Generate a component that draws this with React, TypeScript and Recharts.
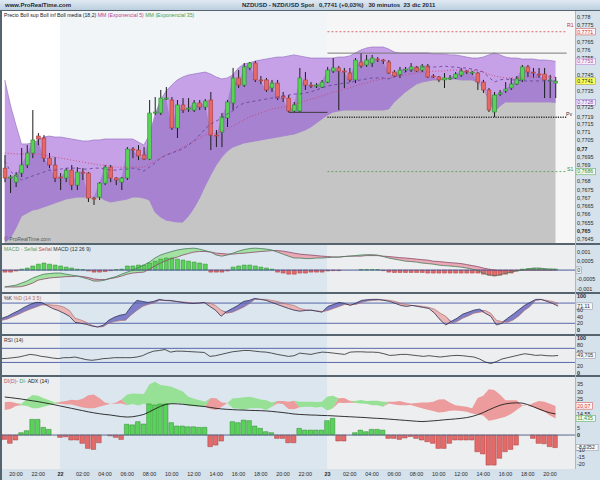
import { ComposedChart, Bar, Area, Line, XAxis, YAxis, ReferenceLine, Cell } from 'recharts'

// NZD/USD 30 min bars, 21 dic 19:00 -> 23 dic 20:30
const OPEN = [
  0.76881, 0.76821, 0.76796, 0.76851, 0.769, 0.76973, 0.77076, 0.77064, 0.76942, 0.769,
  0.76827, 0.76821, 0.76869, 0.76778, 0.76857, 0.76851, 0.76699, 0.76705, 0.7679, 0.76887,
  0.76821, 0.76796, 0.76821, 0.76997, 0.76991, 0.76961, 0.76936, 0.77216, 0.77216, 0.77307,
  0.77295, 0.77125, 0.77265, 0.7724, 0.77234, 0.77277, 0.77252, 0.77295, 0.77082, 0.771,
  0.77186, 0.77277, 0.77429, 0.77386, 0.7749, 0.7752, 0.77417, 0.77417, 0.77368, 0.77398,
  0.77319, 0.77307, 0.77228, 0.77228, 0.77417, 0.77386, 0.7738, 0.77374, 0.77404, 0.77471,
  0.7749, 0.77471, 0.77459, 0.77417, 0.77526, 0.77508, 0.7752, 0.77544, 0.77538, 0.77526,
  0.77465, 0.77447, 0.77477, 0.77477, 0.77496, 0.77477, 0.77502, 0.77441, 0.77435, 0.77417,
  0.77429, 0.77429, 0.77447, 0.77471, 0.77465, 0.77459, 0.77404, 0.77356, 0.77222, 0.77331,
  0.7735, 0.77368, 0.77392, 0.77417, 0.77496, 0.77465, 0.77453, 0.77453, 0.77417, 0.77398,
]
const HIGH = [
  0.76961, 0.76839, 0.76857, 0.77003, 0.77021, 0.77234, 0.77094, 0.77082, 0.76973, 0.76948,
  0.76851, 0.76881, 0.769, 0.76887, 0.76881, 0.76857, 0.76705, 0.76796, 0.769, 0.769,
  0.76827, 0.76827, 0.77009, 0.77009, 0.77021, 0.77009, 0.77295, 0.77313, 0.77356, 0.77374,
  0.77313, 0.77295, 0.77307, 0.77307, 0.77295, 0.77295, 0.77301, 0.77344, 0.77113, 0.77216,
  0.77295, 0.7749, 0.77477, 0.7752, 0.77526, 0.77532, 0.77441, 0.77429, 0.77417, 0.77417,
  0.77344, 0.77325, 0.77283, 0.7749, 0.77465, 0.77404, 0.77398, 0.77417, 0.77496, 0.7755,
  0.77502, 0.7749, 0.7749, 0.7755, 0.77581, 0.77569, 0.77569, 0.77556, 0.77544, 0.77538,
  0.77477, 0.77496, 0.77496, 0.7752, 0.77502, 0.77514, 0.77514, 0.77453, 0.77441, 0.77459,
  0.77447, 0.77465, 0.7749, 0.77477, 0.77471, 0.77465, 0.77417, 0.77368, 0.77344, 0.77356,
  0.77404, 0.77429, 0.77441, 0.77508, 0.77508, 0.7749, 0.7749, 0.7749, 0.77447, 0.77435,
]
const LOW = [
  0.76796, 0.7673, 0.76766, 0.76827, 0.76881, 0.76942, 0.77021, 0.76918, 0.76881, 0.76796,
  0.76748, 0.76796, 0.76748, 0.76748, 0.76809, 0.76675, 0.76657, 0.76687, 0.76778, 0.76796,
  0.76778, 0.76748, 0.76809, 0.76942, 0.7693, 0.7693, 0.7693, 0.77204, 0.77204, 0.77295,
  0.77113, 0.77064, 0.77216, 0.77222, 0.77222, 0.77234, 0.77234, 0.76991, 0.77009, 0.77009,
  0.77131, 0.77234, 0.77368, 0.77374, 0.77477, 0.77404, 0.77392, 0.77344, 0.77344, 0.77295,
  0.77283, 0.77222, 0.77222, 0.77222, 0.77356, 0.77368, 0.77368, 0.77368, 0.77398, 0.77459,
  0.77234, 0.77368, 0.77404, 0.77398, 0.7749, 0.77496, 0.77496, 0.77526, 0.77514, 0.77453,
  0.77435, 0.77429, 0.77465, 0.77465, 0.77465, 0.77465, 0.77429, 0.77429, 0.77404, 0.77368,
  0.77417, 0.77423, 0.77435, 0.77453, 0.77447, 0.77356, 0.77338, 0.77222, 0.77192, 0.77319,
  0.77338, 0.77356, 0.77386, 0.77404, 0.77435, 0.77429, 0.77429, 0.77307, 0.77307, 0.77307,
]
const CLOSE = [
  0.76821, 0.76827, 0.76839, 0.769, 0.76973, 0.77052, 0.77058, 0.76942, 0.769, 0.76821,
  0.76821, 0.76869, 0.76778, 0.76857, 0.76851, 0.76699, 0.76693, 0.7679, 0.76887, 0.76821,
  0.76809, 0.76821, 0.76997, 0.76991, 0.76955, 0.76936, 0.77216, 0.77222, 0.77307, 0.77307,
  0.77125, 0.77265, 0.77234, 0.77246, 0.77277, 0.77252, 0.77289, 0.77082, 0.77076, 0.77192,
  0.77283, 0.77429, 0.77386, 0.77496, 0.7752, 0.77417, 0.77411, 0.77356, 0.77398, 0.77307,
  0.77307, 0.77228, 0.77265, 0.77429, 0.77386, 0.7738, 0.77386, 0.77404, 0.77477, 0.7749,
  0.77471, 0.77465, 0.77417, 0.77538, 0.77502, 0.77538, 0.7755, 0.77538, 0.77532, 0.77459,
  0.77441, 0.77477, 0.77483, 0.77496, 0.77471, 0.77502, 0.77435, 0.77435, 0.77417, 0.77429,
  0.77429, 0.77453, 0.77471, 0.77465, 0.77465, 0.77404, 0.77356, 0.77234, 0.77325, 0.77338,
  0.77362, 0.77392, 0.77423, 0.77496, 0.77465, 0.77459, 0.77447, 0.77417, 0.77417, 0.7741,
]
const BOLL_UP = [
  0.77417, 0.77265, 0.77143, 0.77028, 0.77028, 0.77034, 0.77052, 0.7707, 0.77076, 0.7707,
  0.7707, 0.77064, 0.77058, 0.77052, 0.77046, 0.77046, 0.77052, 0.77052, 0.77058, 0.77058,
  0.77058, 0.77058, 0.77058, 0.77058, 0.7704, 0.77021, 0.77082, 0.77204, 0.77295, 0.7735,
  0.77386, 0.77417, 0.77435, 0.77447, 0.77453, 0.77459, 0.77465, 0.77453, 0.77435, 0.77423,
  0.77429, 0.77447, 0.7749, 0.77514, 0.7752, 0.77532, 0.77538, 0.77544, 0.7755, 0.77556,
  0.77556, 0.77563, 0.77569, 0.77563, 0.77556, 0.7755, 0.7755, 0.7755, 0.7755, 0.7755,
  0.77556, 0.77556, 0.77563, 0.77581, 0.77599, 0.77611, 0.77617, 0.77617, 0.77617, 0.77605,
  0.77587, 0.77581, 0.77581, 0.77581, 0.77581, 0.77581, 0.77581, 0.77575, 0.77575, 0.77575,
  0.77569, 0.77569, 0.77563, 0.77556, 0.7755, 0.7755, 0.77556, 0.77569, 0.77581, 0.77569,
  0.77556, 0.7755, 0.7755, 0.77544, 0.77544, 0.77544, 0.77538, 0.77538, 0.77535, 0.7753,
]
const BOLL_DN = [
  0.76432, 0.76456, 0.76517, 0.7659, 0.76608, 0.76626, 0.76633, 0.76645, 0.76657, 0.76669,
  0.76681, 0.76693, 0.76699, 0.76705, 0.76705, 0.76705, 0.76705, 0.76705, 0.76687, 0.76675,
  0.76681, 0.76687, 0.76693, 0.76705, 0.76705, 0.76699, 0.76687, 0.76614, 0.76584, 0.76565,
  0.76559, 0.76553, 0.76553, 0.7659, 0.76639, 0.76699, 0.76772, 0.76839, 0.769, 0.76948,
  0.76985, 0.77009, 0.77021, 0.77034, 0.7704, 0.77046, 0.77052, 0.77058, 0.77064, 0.7707,
  0.77076, 0.77082, 0.77088, 0.771, 0.77113, 0.77131, 0.77155, 0.7718, 0.77204, 0.77222,
  0.77228, 0.77234, 0.77234, 0.77234, 0.77234, 0.77234, 0.77234, 0.77234, 0.77234, 0.7724,
  0.77283, 0.77313, 0.77344, 0.77368, 0.77392, 0.77404, 0.77411, 0.77417, 0.77417, 0.77423,
  0.77423, 0.77423, 0.77417, 0.77417, 0.77417, 0.77404, 0.77368, 0.77295, 0.77222, 0.77259,
  0.77283, 0.77283, 0.77283, 0.77283, 0.77283, 0.77283, 0.77283, 0.77283, 0.77283, 0.7728,
]
const BOLL_MID = [
  0.76924, 0.76863, 0.76833, 0.76809, 0.76821, 0.76833, 0.76845, 0.76857, 0.76869, 0.76869,
  0.76875, 0.76881, 0.76881, 0.76881, 0.76875, 0.76875, 0.76881, 0.76881, 0.76875, 0.76869,
  0.76869, 0.76875, 0.76875, 0.76881, 0.76875, 0.76863, 0.76887, 0.76912, 0.76942, 0.76961,
  0.76973, 0.76985, 0.76997, 0.77021, 0.77046, 0.77082, 0.77119, 0.77149, 0.77167, 0.77186,
  0.7721, 0.77228, 0.77259, 0.77277, 0.77283, 0.77289, 0.77295, 0.77301, 0.77307, 0.77313,
  0.77319, 0.77325, 0.77331, 0.77331, 0.77338, 0.77344, 0.77356, 0.77368, 0.7738, 0.77386,
  0.77392, 0.77398, 0.77398, 0.77411, 0.77417, 0.77423, 0.77429, 0.77429, 0.77429, 0.77423,
  0.77435, 0.77447, 0.77465, 0.77477, 0.7749, 0.77496, 0.77496, 0.77496, 0.77496, 0.77502,
  0.77496, 0.77496, 0.7749, 0.7749, 0.77483, 0.77477, 0.77465, 0.77435, 0.77404, 0.77417,
  0.77423, 0.77417, 0.77417, 0.77411, 0.77411, 0.77411, 0.77411, 0.77411, 0.77411, 0.77411,
]
const EMA_35 = [
  0.76973, 0.7697, 0.76967, 0.76967, 0.76967, 0.76967, 0.76967, 0.76961, 0.76955, 0.76948,
  0.76942, 0.76936, 0.7693, 0.76924, 0.76918, 0.76912, 0.76906, 0.769, 0.769, 0.76894,
  0.76887, 0.76887, 0.76887, 0.76887, 0.76887, 0.76887, 0.76906, 0.76924, 0.76942, 0.76961,
  0.76973, 0.76991, 0.77009, 0.77028, 0.77046, 0.77064, 0.77082, 0.77088, 0.77094, 0.77107,
  0.77119, 0.77137, 0.77155, 0.77173, 0.77192, 0.77204, 0.77216, 0.77228, 0.7724, 0.77246,
  0.77252, 0.77259, 0.77265, 0.77277, 0.77289, 0.77301, 0.77307, 0.77319, 0.77331, 0.77344,
  0.7735, 0.77362, 0.77368, 0.7738, 0.77392, 0.77398, 0.77411, 0.77417, 0.77423, 0.77429,
  0.77435, 0.77441, 0.77447, 0.77453, 0.77459, 0.77465, 0.77465, 0.77471, 0.77471, 0.77471,
  0.77477, 0.77477, 0.77477, 0.77477, 0.77477, 0.77471, 0.77465, 0.77453, 0.77441, 0.77435,
  0.77429, 0.77429, 0.77429, 0.77429, 0.77435, 0.77435, 0.77435, 0.77435, 0.77435, 0.77435,
]

const R1 = 0.7771
const PIVOT = 0.7719
const S1 = 0.7686
const PREV_HIGH = 0.7758
const PREV_LOW = 0.7722

const MACD = [
  -0.00091, -0.00086, -0.00081, -0.0007, -0.00059, -0.00043, -0.00032, -0.00022, -0.00019, -0.00016,
  -0.00016, -0.00022, -0.00027, -0.00032, -0.0004, -0.00048, -0.00059, -0.00059, -0.00054, -0.00043,
  -0.00035, -0.00022, -0.00011, 0, 0.00013, 0.00027, 0.00043, 0.00065, 0.00081, 0.00091,
  0.001, 0.00108, 0.00113, 0.00116, 0.00118, 0.00113, 0.00105, 0.00097, 0.00081, 0.00075,
  0.00081, 0.00091, 0.00102, 0.0011, 0.00116, 0.00118, 0.00116, 0.00113, 0.00108, 0.00097,
  0.00086, 0.00075, 0.00065, 0.00065, 0.00062, 0.00062, 0.00065, 0.00065, 0.00067, 0.0007,
  0.0007, 0.00073, 0.00075, 0.00078, 0.00081, 0.00083, 0.00083, 0.00081, 0.00073, 0.00065,
  0.00059, 0.00054, 0.00048, 0.00046, 0.00043, 0.00038, 0.00035, 0.00032, 0.00027, 0.00024,
  0.00022, 0.00019, 0.00016, 0.00011, 0.00005, -0.00003, -0.00016, -0.00027, -0.0003, -0.00027,
  -0.00016, -0.00011, -0.00005, 0, 0.00005, 0.00011, 0.00011, 0.00008, 0.00005, 0.00005,
]
const MACD_SIGNAL = [
  -0.00091, -0.00091, -0.00091, -0.00089, -0.00081, -0.0007, -0.00054, -0.00048, -0.00043, -0.0004,
  -0.00038, -0.00035, -0.00035, -0.00032, -0.00035, -0.0004, -0.00048, -0.00051, -0.00051, -0.00046,
  -0.0004, -0.00032, -0.00022, -0.00016, -0.00013, -0.00011, 0.00005, 0.00022, 0.00038, 0.00051,
  0.00062, 0.0007, 0.00081, 0.00089, 0.00097, 0.001, 0.001, 0.00097, 0.00091, 0.00089,
  0.00086, 0.00086, 0.00089, 0.00091, 0.00094, 0.00097, 0.001, 0.00102, 0.00105, 0.00105,
  0.00102, 0.00097, 0.00091, 0.00086, 0.00083, 0.00081, 0.00078, 0.00075, 0.00073, 0.0007,
  0.0007, 0.00073, 0.00075, 0.00075, 0.00075, 0.00078, 0.00078, 0.00078, 0.00075, 0.00073,
  0.0007, 0.00067, 0.00065, 0.00062, 0.00059, 0.00056, 0.00054, 0.00048, 0.00046, 0.00043,
  0.0004, 0.00038, 0.00035, 0.0003, 0.00024, 0.00019, 0.00011, 0.00005, 0, -0.00003,
  -0.00003, -0.00003, -0.00003, 0, 0, 0, 0, 0, 0, 0,
]
const MACD_HIST = [
  -0.00011, -0.00011, -0.00005, 0.00005, 0.00011, 0.00022, 0.00032, 0.00038, 0.00032, 0.00027,
  0.00022, 0.00016, 0.00011, 0.00005, 0.00003, -0.00005, -0.00011, -0.00011, -0.00008, -0.00003,
  0.00003, 0.00005, 0.00022, 0.00022, 0.00027, 0.00027, 0.00038, 0.00048, 0.00059, 0.00065,
  0.00065, 0.00059, 0.00054, 0.00048, 0.00043, 0.00038, 0.00032, -0.00011, -0.00011, -0.00011,
  -0.00005, 0.00016, 0.00022, 0.00027, 0.00027, 0.00022, 0.00016, 0.00011, 0.00005, -0.00011,
  -0.00016, -0.00022, -0.00022, -0.00016, -0.00016, -0.00011, -0.00011, -0.00011, -0.00005, -0.00003,
  -0.00003, 0, 0, 0, 0.00003, 0.00003, 0.00003, 0.00003, -0.00003, -0.00011,
  -0.00013, -0.00013, -0.00013, -0.00013, -0.00013, -0.00013, -0.00016, -0.00016, -0.00016, -0.00016,
  -0.00016, -0.00016, -0.00016, -0.00016, -0.00016, -0.00016, -0.00022, -0.00027, -0.00032, -0.00027,
  -0.00022, -0.00016, -0.00005, 0.00005, 0.00008, 0.00008, 0.00008, 0.00005, 0.00005, 0.00005,
]

const STOCH_K = [
  35, 41, 50, 58, 68, 76, 82, 82, 73, 64, 58, 50, 41, 23, 20, 17, 12, 9, 14, 29,
  38, 44, 47, 70, 88, 85, 82, 85, 91, 88, 88, 85, 82, 80, 79, 80, 82, 70, 59, 41,
  55, 64, 73, 85, 88, 94, 91, 88, 82, 76, 70, 64, 59, 56, 58, 59, 56, 53, 70, 76,
  82, 79, 73, 80, 88, 90, 91, 91, 88, 85, 79, 73, 70, 73, 70, 67, 64, 50, 30, 15,
  26, 35, 47, 53, 59, 62, 50, 41, 15, 20, 35, 47, 60, 73, 82, 91, 91, 85, 79, 71.11,
]
const STOCH_D = [
  29, 33, 40, 47, 55, 62, 68, 74, 76, 74, 73, 68, 58, 35, 30, 23, 14, 9, 10, 20,
  25, 28, 29, 45, 58, 70, 76, 80, 88, 88, 86, 85, 84, 82, 80, 80, 82, 80, 73, 59,
  50, 53, 60, 68, 78, 91, 91, 91, 88, 85, 80, 76, 73, 64, 60, 59, 57, 55, 58, 64,
  70, 76, 76, 76, 82, 86, 88, 89, 90, 88, 85, 79, 76, 73, 72, 70, 67, 62, 50, 41,
  20, 25, 35, 42, 50, 53, 58, 50, 29, 25, 23, 30, 42, 58, 70, 88, 90, 88, 85, 79,
]
const RSI = [
  40.8, 41.7, 43.5, 45.4, 49.1, 52.8, 50.9, 47.2, 45.4, 42.6, 40.8, 43.5, 43.5, 45.4, 41.7, 38, 36.1, 38, 40.8, 41.7,
  43.5, 43.5, 43.5, 43.5, 45.4, 49.1, 56.5, 62, 63.9, 66.7, 59.3, 62, 62, 61.1, 60.2, 59.3, 58.3, 47.2, 49.1, 52.8,
  56.5, 60.2, 62, 63.9, 63.9, 62, 60.2, 59.3, 56.5, 52.8, 50, 47.2, 49.1, 56.5, 54.6, 52.8, 56.5, 59.3, 58.3, 56.5,
  54.6, 52.8, 59.3, 60.2, 60.2, 59.3, 59.3, 58.3, 54.6, 50, 50.9, 52.8, 52.8, 50.9, 49.1, 47.2, 49.1, 47.2, 45.4, 47.2,
  49.1, 50, 49.1, 47.2, 45.4, 39.8, 31.5, 26.9, 32.4, 39.8, 43.5, 47.2, 50.9, 54.6, 52.8, 50, 50.9, 49.1, 48.5, 49.705,
]
const DI_PLUS = [
  17.2, 18, 20, 21.5, 25, 27.6, 27, 25.3, 24, 22.5, 21.5, 21, 21, 20, 19, 18.5, 18.5, 19.5, 20.5, 21.5,
  21.5, 21.8, 28, 28.7, 28.5, 28.3, 35, 36.8, 34.5, 34, 33.3, 31.5, 30, 26.4, 25, 24, 23, 18, 17.2, 19.5,
  22, 25.3, 25.5, 26, 26.4, 25.5, 24.5, 24, 22.5, 21.8, 21.4, 18, 17.7, 23, 23, 23, 22.7, 23, 26.6, 27,
  22.3, 22, 22.3, 23.5, 24.1, 23.5, 23.7, 23.7, 23, 21.8, 21, 20.5, 20.5, 20.7, 19.5, 18.5, 17.5, 16.5, 15.5, 15.8,
  16.8, 17, 16.5, 16, 14.9, 14.2, 13.5, 9.9, 10.5, 11.5, 12.6, 14.5, 17.2, 20, 20, 19.5, 17.5, 16, 13.5, 11.435,
]
const DI_MINUS = [
  22.8, 23, 22, 20.5, 20, 18.4, 18.5, 19.5, 20.5, 21.5, 23, 23.5, 24.3, 24, 25, 27.5, 28, 25.5, 22.5, 21.5,
  22.5, 24.5, 20.5, 21.4, 20.3, 21.5, 20.5, 20.7, 19.5, 20.5, 21.4, 22, 21.5, 20, 19.8, 19.5, 19.5, 25.5, 25.3, 22.5,
  22, 18.4, 18.2, 17.5, 18.4, 18.5, 18.5, 17.2, 19.5, 23.5, 23.5, 23, 23.7, 19.1, 19.5, 19.5, 19, 19.5, 17, 18.5,
  25.3, 25.5, 23.7, 22, 21.8, 21.5, 20.5, 20.5, 19.5, 23, 23, 23.5, 22.5, 21.8, 22, 22.5, 22.5, 23, 24.5, 24.7,
  22.5, 20.5, 20, 19.5, 18.4, 25.5, 27, 31.5, 31, 28, 24, 24, 24, 20.5, 20, 22, 23.5, 23, 21.5, 20.07,
]
const ADX = [
  26.2, 25.8, 25.3, 24.8, 24.2, 23.6, 23, 22.3, 21.6, 20.8, 20, 19.2, 18.4, 17.6, 16.8, 16, 15.3, 14.7, 14.2, 13.8,
  13.2, 12.7, 12.4, 12.6, 13.3, 14.2, 16, 18, 19.8, 21.2, 21.6, 21.5, 21.2, 20.8, 20.4, 20, 19.6, 19, 18.4, 18,
  17.7, 17.5, 17.3, 17.2, 17, 16.9, 16.8, 16.6, 16.3, 15.9, 15.5, 15, 14.5, 14.2, 14, 13.8, 13.7, 13.5, 13.4, 13.2,
  13, 12.8, 12.6, 12.4, 12.2, 12, 11.7, 11.5, 11.3, 11, 10.7, 10.4, 10.1, 9.8, 9.5, 9.3, 9.5, 9.8, 10.1, 10.5,
  10.8, 11.1, 11.5, 12, 12.8, 14, 15.5, 17.3, 19, 20.5, 21.5, 22, 22.2, 22, 21, 19.5, 18, 16.5, 15.3, 14.55,
]
const DI_HIST = [
  -3, -5.7, -3.4, 1.6, 3, 10.8, 10.8, 5.3, 3.9, 0, -1.6, -1.2, -3.4, -3.4, -5.7, -9.2, -9.9, -5.3, 0, -0.5,
  -1.6, -3, 7.4, 7, 9.2, 7.6, 21.4, 20.7, 21.4, 21.4, 8.5, 6.2, 6.2, 5.7, 5.7, 5.3, 5.3, -8, -6.9, -4.1,
  0, 9.2, 8.5, 10.3, 9.9, 6.2, 4.6, 2.3, 1.6, -2.3, -2.3, -5.3, -5.3, 4.6, 3.4, 3.4, 3.4, 3.4, 9.9, 11.5,
  -4.1, -4.1, 0, 1.6, 3.4, 2.3, 3.9, 3.9, 3.4, -2.3, -2.3, -3, -2, -1, -2.3, -3.4, -4.6, -5.7, -9.2, -9.2,
  -5.7, -3.4, -3.4, -3.4, -3.4, -11.5, -13, -20.7, -20.7, -16, -11.5, -9.9, -6.9, 0, 0, -2.3, -5.7, -6, -8, -8.6352,
]

const X_TICKS = [2, 6, 10, 14, 18, 22, 26, 30, 34, 38, 42, 46, 50, 54, 58, 62, 66, 70, 74, 78, 82, 86, 90, 94, 98]
const X_LABELS = [
  '20:00', '22:00', '22', '02:00', '04:00', '06:00', '08:00', '10:00', '12:00', '14:00', '16:00', '18:00', '20:00',
  '22:00', '23', '02:00', '04:00', '06:00', '08:00', '10:00', '12:00', '14:00', '16:00', '18:00', '20:00',
]

const PRICE_TICKS = [
  0.778, 0.7775, 0.7771, 0.7765, 0.776, 0.7755, 0.7753, 0.7745, 0.7741, 0.7735, 0.7728, 0.7725, 0.7719,
  0.7715, 0.771, 0.7705, 0.77, 0.7695, 0.769, 0.7686, 0.768, 0.7675, 0.767, 0.7665, 0.766, 0.7655, 0.765, 0.7645,
]
const MACD_TICKS = [0.001, 0.0005, 0, -0.0005, -0.001]
const STOCH_TICKS = [100, 71.11, 60, 40, 20, 0]
const RSI_TICKS = [100, 80, 60, 49.705, 20, 0]
const DI_TICKS = [35, 30, 25, 20.07, 14.55, 11.435, 5, 0, -8.6352, -10, -15, -20]

const FONT = '"Liberation Sans", Arial, sans-serif'
const W = 600
const PLOT_L = 2
const AXIS_W = 25
const SLOTS = 103
const BAND = (W - PLOT_L - AXIS_W) / SLOTS
const xAt = (i: number) => PLOT_L + BAND * (i + 0.5)
const MARGIN = { top: 0, right: 0, bottom: 0, left: PLOT_L }

const GREEN = '#5ad15a'
const GREEN_EDGE = '#2c8a2c'
const RED = '#e46a6a'
const RED_EDGE = '#a83a3a'

const rows = Array.from({ length: SLOTS }, (_, i) => {
  if (i >= CLOSE.length) return { i }
  const c = CLOSE[i]
  const up = BOLL_UP[i]
  const dn = BOLL_DN[i]
  return {
    i,
    candle: [LOW[i], HIGH[i]],
    open: OPEN[i],
    high: HIGH[i],
    low: LOW[i],
    close: c,
    lower: dn,
    band: [dn, up],
    inner: [dn, Math.min(Math.max(c, dn), up)],
    mid: BOLL_MID[i],
    ema: EMA_35[i],
    macd: MACD[i],
    signal: MACD_SIGNAL[i],
    macdHist: MACD_HIST[i],
    macdUp: [MACD_SIGNAL[i], Math.max(MACD[i], MACD_SIGNAL[i])],
    macdDn: [Math.min(MACD[i], MACD_SIGNAL[i]), MACD_SIGNAL[i]],
    k: STOCH_K[i],
    d: STOCH_D[i],
    stUp: [STOCH_D[i], Math.max(STOCH_K[i], STOCH_D[i])],
    stDn: [Math.min(STOCH_K[i], STOCH_D[i]), STOCH_D[i]],
    rsi: RSI[i],
    adx: ADX[i],
    diUp: [DI_MINUS[i], Math.max(DI_PLUS[i], DI_MINUS[i])],
    diDn: [Math.min(DI_PLUS[i], DI_MINUS[i]), DI_MINUS[i]],
    diHist: DI_HIST[i],
  }
})

type Box = { fill: string; stroke: string; color: string } | null
const comma = (v: number) => String(v).replace('.', ',')

// boxed labels mark last values / pivot levels; null = plain coloured text
function axisTick(boxes: Map<number, Box>, bold: number[], tints: Map<number, string> = new Map()) {
  return (p: any) => {
    const v = p.payload.value as number
    const text = comma(v)
    const b = boxes.get(v)
    if (b) {
      return (
        <g>
          <rect x={p.x - 1} y={p.y - 3.2} width={text.length * 2.8 + 2.5} height={6.4} fill={b.fill} stroke={b.stroke} strokeWidth={0.5} />
          <text x={p.x + 0.3} y={p.y + 1.9} fontSize={5.2} fontFamily={FONT} fill={b.color}>{text}</text>
        </g>
      )
    }
    return (
      <text x={p.x} y={p.y + 2} fontSize={5.4} fontFamily={FONT} fontWeight={bold.includes(v) ? 700 : 400} fill={tints.get(v) ?? '#2a2a2a'}>
        {text}
      </text>
    )
  }
}

function timeTick(p: any) {
  const label = X_LABELS[X_TICKS.indexOf(p.payload.value)]
  return (
    <text x={p.x} y={p.y + 6} textAnchor="middle" fontSize={5.4} fontFamily={FONT} fontWeight={label.length === 2 ? 700 : 400} fill="#2a2a2a">
      {label}
    </text>
  )
}

function Candle(props: any) {
  const { x, y, width, height, payload } = props
  if (!payload || payload.close == null) return null
  const { open, close, high, low } = payload
  const cx = x + width / 2
  const py = (v: number) => y + ((high - v) / (high - low || 1e-9)) * height
  const top = py(Math.max(open, close))
  const bot = py(Math.min(open, close))
  const rising = close >= open
  return (
    <g>
      <line x1={cx} x2={cx} y1={y} y2={y + height} stroke="#1c1c1c" strokeWidth={1} />
      <rect x={cx - 1.9} y={top} width={3.8} height={Math.max(bot - top, 1)} fill={rising ? GREEN : RED} stroke={rising ? GREEN_EDGE : RED_EDGE} strokeWidth={0.6} />
    </g>
  )
}

const yAxisProps = {
  orientation: 'right' as const,
  width: AXIS_W,
  axisLine: false,
  tickLine: false,
  tickSize: 0,
  tickMargin: 2,
  interval: 0,
  allowDataOverflow: true,
}

function Backdrop({ top, height, colors }: { top: number; height: number; colors: string[] }) {
  const a = xAt(10)
  const b = xAt(58)
  const parts = [
    [PLOT_L, a],
    [a, b],
    [b, W - AXIS_W],
  ]
  return (
    <>
      {parts.map(([l, r], n) => (
        <div key={n} style={{ position: 'absolute', left: l, top, width: r - l, height, background: colors[n] }} />
      ))}
    </>
  )
}

const PANEL_BG = ['#eceeef', '#dbe6ef', '#eceef0']

function PricePanel() {
  const seg = (v: number, from: number, to: number) => [
    { x: from, y: v },
    { x: to, y: v },
  ]
  return (
    <ComposedChart width={W} height={232} data={rows} margin={MARGIN} barCategoryGap={0} barGap={0}>
      <XAxis dataKey="i" hide />
      <YAxis
        {...yAxisProps}
        domain={[0.76426, 0.77836]}
        ticks={PRICE_TICKS}
        tick={axisTick(
          new Map<number, Box>([
            [0.7771, { fill: '#fff4f4', stroke: '#d04848', color: '#c43434' }],
            [0.7753, { fill: '#f7eefc', stroke: '#b070c8', color: '#b04a90' }],
            [0.7741, { fill: '#ffff5a', stroke: '#9a9a30', color: '#222' }],
            [0.7728, { fill: '#f4ecfc', stroke: '#8a62c0', color: '#7a4ab0' }],
            [0.7686, { fill: '#f0faf0', stroke: '#4a9a4a', color: '#3a8a3a' }],
          ]),
          [0.77, 0.765],
        )}
      />
      <Area dataKey="lower" baseValue="dataMin" type="linear" fill="#c5c5c5" fillOpacity={1} stroke="none" isAnimationActive={false} dot={false} activeDot={false} />
      <Area dataKey="band" type="linear" fill="#c7a1e8" fillOpacity={1} stroke="#9872c2" strokeWidth={0.7} isAnimationActive={false} dot={false} activeDot={false} />
      <Area dataKey="inner" type="linear" fill="#a682d1" fillOpacity={1} stroke="none" isAnimationActive={false} dot={false} activeDot={false} />
      <Line dataKey="ema" type="linear" stroke="#d0406e" strokeWidth={0.9} strokeDasharray="1 2" dot={false} activeDot={false} isAnimationActive={false} />
      <Line dataKey="mid" type="linear" stroke="#5e3d92" strokeWidth={0.8} strokeDasharray="3 3" dot={false} activeDot={false} isAnimationActive={false} />
      <ReferenceLine segment={seg(PREV_HIGH, 58, 101)} stroke="#7a7a7a" strokeWidth={1} />
      <ReferenceLine segment={seg(PREV_LOW, 51, 58)} stroke="#3a3a3a" strokeWidth={1} />
      <ReferenceLine segment={seg(R1, 58, 101)} stroke="#d24a4a" strokeWidth={0.8} strokeDasharray="2 2" />
      <ReferenceLine segment={seg(PIVOT, 58, 101)} stroke="#303030" strokeWidth={1.6} strokeDasharray="1.2 1.2" />
      <ReferenceLine segment={seg(S1, 58, 101)} stroke="#4c9c4c" strokeWidth={0.8} strokeDasharray="2 2" />
      <Bar dataKey="candle" shape={Candle} isAnimationActive={false} />
    </ComposedChart>
  )
}

function MacdPanel() {
  return (
    <ComposedChart width={W} height={47} data={rows} margin={MARGIN} barCategoryGap={0} barGap={0}>
      <XAxis dataKey="i" hide />
      <YAxis
        {...yAxisProps}
        domain={[-0.00118, 0.00135]}
        ticks={MACD_TICKS}
        tick={axisTick(new Map<number, Box>([[0, { fill: '#eef0f2', stroke: '#8a8a8a', color: '#333' }]]), [])}
      />
      <Area dataKey="macdUp" type="linear" fill="#a4e2a4" fillOpacity={1} stroke="none" isAnimationActive={false} dot={false} activeDot={false} />
      <Area dataKey="macdDn" type="linear" fill="#e9a9b6" fillOpacity={1} stroke="none" isAnimationActive={false} dot={false} activeDot={false} />
      <ReferenceLine y={0} stroke="#4a5a96" strokeWidth={1} />
      <Bar dataKey="macdHist" barSize={4} isAnimationActive={false}>
        {rows.map((r: any) => (
          <Cell key={r.i} fill={(r.macdHist ?? 0) >= 0 ? GREEN : RED} stroke={(r.macdHist ?? 0) >= 0 ? GREEN_EDGE : RED_EDGE} strokeWidth={0.5} />
        ))}
      </Bar>
      <Line dataKey="signal" type="linear" stroke="#8a4a6a" strokeWidth={0.8} dot={false} activeDot={false} isAnimationActive={false} />
      <Line dataKey="macd" type="linear" stroke="#4a7a5a" strokeWidth={0.8} dot={false} activeDot={false} isAnimationActive={false} />
    </ComposedChart>
  )
}

function StochPanel() {
  return (
    <ComposedChart width={W} height={40} data={rows} margin={MARGIN}>
      <XAxis dataKey="i" hide />
      <YAxis
        {...yAxisProps}
        domain={[-11.8, 107]}
        ticks={STOCH_TICKS}
        tick={axisTick(new Map<number, Box>([[71.11, { fill: '#f4f6f8', stroke: '#8a8a9a', color: '#333' }]]), [100, 0])}
      />
      <ReferenceLine y={80} stroke="#5a68aa" strokeWidth={1} />
      <ReferenceLine y={20} stroke="#5a68aa" strokeWidth={1} />
      <Area dataKey="stUp" type="linear" fill="#7e7ec8" fillOpacity={1} stroke="none" isAnimationActive={false} dot={false} activeDot={false} />
      <Area dataKey="stDn" type="linear" fill="#e8b4b4" fillOpacity={1} stroke="none" isAnimationActive={false} dot={false} activeDot={false} />
      <Line dataKey="d" type="linear" stroke="#b07070" strokeWidth={0.7} dot={false} activeDot={false} isAnimationActive={false} />
      <Line dataKey="k" type="linear" stroke="#2e2e58" strokeWidth={0.8} dot={false} activeDot={false} isAnimationActive={false} />
    </ComposedChart>
  )
}

function RsiPanel() {
  return (
    <ComposedChart width={W} height={39} data={rows} margin={MARGIN}>
      <XAxis dataKey="i" hide />
      <YAxis
        {...yAxisProps}
        domain={[-5.6, 105]}
        ticks={RSI_TICKS}
        tick={axisTick(new Map<number, Box>([[49.705, { fill: '#f4f6f8', stroke: '#8a8a9a', color: '#333' }]]), [100, 0])}
      />
      <ReferenceLine y={70} stroke="#5a68aa" strokeWidth={1} />
      <ReferenceLine y={30} stroke="#5a68aa" strokeWidth={1} />
      <Line dataKey="rsi" type="linear" stroke="#2a2a2a" strokeWidth={0.8} dot={false} activeDot={false} isAnimationActive={false} />
    </ComposedChart>
  )
}

function DiPanel() {
  return (
    <ComposedChart width={W} height={103} data={rows} margin={MARGIN} barCategoryGap={0} barGap={0}>
      <XAxis dataKey="i" ticks={X_TICKS} interval={0} tick={timeTick} tickLine={false} axisLine={false} tickSize={0} tickMargin={1} height={11} />
      <YAxis
        {...yAxisProps}
        domain={[-23.4, 40]}
        ticks={DI_TICKS}
        tick={axisTick(
          new Map<number, Box>([
            [20.07, { fill: '#fff4f4', stroke: '#d04848', color: '#c43434' }],
            [11.435, { fill: '#f0faf0', stroke: '#4a9a4a', color: '#3a8a3a' }],
            [-8.6352, { fill: '#f4f6f8', stroke: '#8a8a9a', color: '#333' }],
          ]),
          [0],
          new Map([[14.55, '#222']]),
        )}
      />
      <Area dataKey="diUp" type="linear" fill="#97e197" fillOpacity={1} stroke="none" isAnimationActive={false} dot={false} activeDot={false} />
      <Area dataKey="diDn" type="linear" fill="#ec9c9c" fillOpacity={1} stroke="none" isAnimationActive={false} dot={false} activeDot={false} />
      <ReferenceLine y={0} stroke="#5a6a8c" strokeWidth={1} />
      <Bar dataKey="diHist" barSize={4.6} isAnimationActive={false}>
        {rows.map((r: any) => (
          <Cell key={r.i} fill={(r.diHist ?? 0) >= 0 ? GREEN : RED} stroke={(r.diHist ?? 0) >= 0 ? GREEN_EDGE : RED_EDGE} strokeWidth={0.5} />
        ))}
      </Bar>
      <Line dataKey="adx" type="linear" stroke="#1e1e1e" strokeWidth={0.9} dot={false} activeDot={false} isAnimationActive={false} />
    </ComposedChart>
  )
}

const legend = (left: number, top: number, parts: [string, string][]) => (
  <div style={{ position: 'absolute', left, top, fontSize: 5.2, lineHeight: '6px', whiteSpace: 'nowrap', fontFamily: FONT }}>
    {parts.map(([t, c], n) => (
      <span key={n} style={{ color: c }}>
        {t}
      </span>
    ))}
  </div>
)

const sep = (top: number, h = 2) => (
  <div style={{ position: 'absolute', left: 0, top, width: W, height: h, background: '#56646f' }} />
)

export default function App() {
  return (
    <div style={{ position: 'relative', width: W, height: 480, background: '#d5e1eb', overflow: 'hidden', fontFamily: FONT }}>
      <style>{'body{margin:0}'}</style>
      <div
        style={{
          position: 'absolute', left: 0, top: 0, width: W, height: 10,
          background: 'linear-gradient(#dfe9f2, #bccfdf)', fontWeight: 700, fontSize: 6, lineHeight: '10px', color: '#1c2a3a',
        }}
      >
        <span style={{ position: 'absolute', left: 5 }}>www.ProRealTime.com</span>
        <span style={{ position: 'absolute', left: 242, whiteSpace: 'nowrap' }}>
          NZDUSD - NZD/USD Spot&nbsp;&nbsp;&nbsp;0,7741 (+0,03%)&nbsp;&nbsp;&nbsp;30 minutos&nbsp;&nbsp;23 dic 2011
        </span>
      </div>
      {sep(10, 1)}
      <Backdrop top={11} height={232} colors={['#ffffff', '#f1f5f8', '#f6f6f6']} />
      <Backdrop top={245} height={47} colors={PANEL_BG} />
      <Backdrop top={294} height={40} colors={PANEL_BG} />
      <Backdrop top={336} height={39} colors={PANEL_BG} />
      <Backdrop top={377} height={92} colors={PANEL_BG} />
      <div style={{ position: 'absolute', left: 0, top: 11 }}><PricePanel /></div>
      <div style={{ position: 'absolute', left: 0, top: 245 }}><MacdPanel /></div>
      <div style={{ position: 'absolute', left: 0, top: 294 }}><StochPanel /></div>
      <div style={{ position: 'absolute', left: 0, top: 336 }}><RsiPanel /></div>
      <div style={{ position: 'absolute', left: 0, top: 377 }}><DiPanel /></div>
      {sep(243)}
      {sep(292)}
      {sep(334)}
      {sep(375)}
      <div style={{ position: 'absolute', left: 0, top: 10, width: 2, height: 470, background: '#56646f' }} />
      <div style={{ position: 'absolute', left: W - AXIS_W, top: 11, width: 1, height: 458, background: '#a9b7c4' }} />
      {legend(4, 12, [
        ['Precio Boll sup Boll inf Boll media (18,2) ', '#222'],
        ['MM (Exponencial 5) ', '#c0408a'],
        ['MM (Exponencial 35)', '#4aa04a'],
      ])}
      {legend(4, 236, [['© ProRealTime.com', '#555']])}
      {legend(4, 246, [
        ['MACD - Señal ', '#5a9a6a'],
        ['Señal ', '#b05060'],
        ['MACD (12 26 9)', '#333'],
      ])}
      {legend(4, 295, [
        ['%K ', '#2e2e58'],
        ['%D (14 3 5)', '#b07070'],
      ])}
      {legend(4, 337, [['RSI (14)', '#333']])}
      {legend(4, 378, [
        ['DI(D)- ', '#c05050'],
        ['DI- ', '#4aa04a'],
        ['ADX (14)', '#222'],
      ])}
      {legend(567, 22, [['R1', '#c43434']])}
      {legend(566, 111, [['Pv', '#333']])}
      {legend(567, 166, [['S1', '#3a8a3a']])}
    </div>
  )
}
